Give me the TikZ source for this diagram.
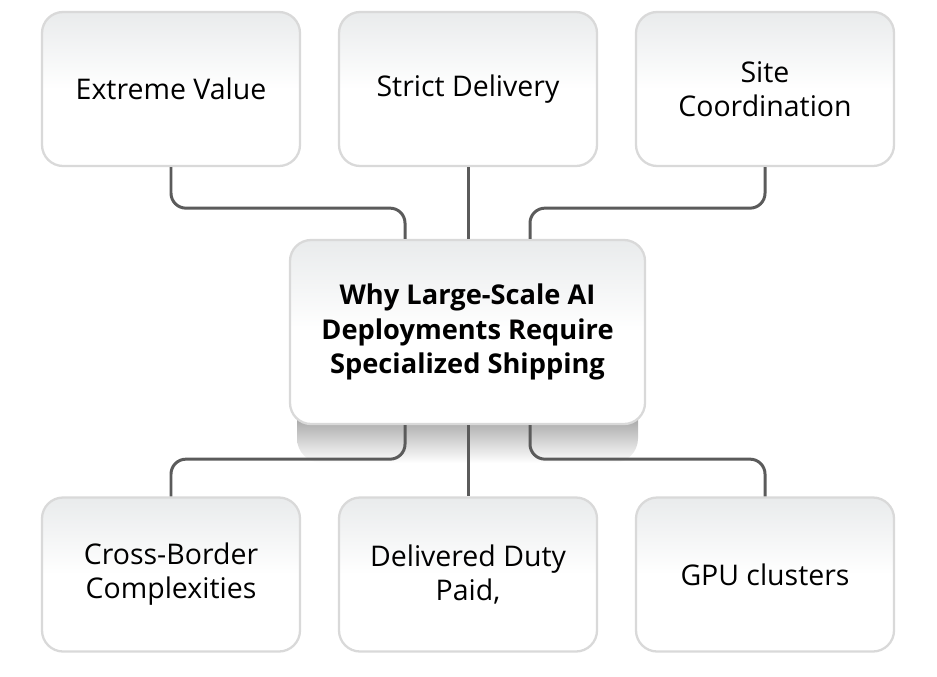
\documentclass[tikz,border=0pt]{standalone}
\usepackage{fontspec}
\setmainfont{Open Sans}
\usepackage{tikz}
\usetikzlibrary{arrows.meta,positioning,calc}
\usepackage{xcolor}
\definecolor{shLine}{HTML}{5B5B5B}
\definecolor{shEdge}{HTML}{D9D9D9}
\definecolor{shTop}{HTML}{E9EBEC}
\definecolor{shShadow}{HTML}{7A7A7A}
\tikzset{
  conn/.style={line width=1.7pt, draw=shLine, rounded corners=8.5pt},
  card/.style={rounded corners=12pt, draw=shEdge, line width=1.3pt, top color=shTop, bottom color=white, middle color=white, align=center, minimum width=5.16cm, minimum height=3.08cm, inner sep=4pt, font=\fontsize{16.2}{19.4}\selectfont},
  hubcard/.style={card, minimum width=7.1cm, minimum height=3.68cm, font=\fontsize{15.5}{19.4}\selectfont\bfseries}
}
\begin{document}
\begin{tikzpicture}[x=0.2mm,y=-0.2mm]
  \useasboundingbox (0,0) rectangle (937,676);
  \shade[top color=shShadow, bottom color=white, rounded corners=14pt] (297,395) rectangle (638,463);
  \node[hubcard] (hub) at (467.5,332) {Why Large-Scale AI\\Deployments Require\\Specialized Shipping};
  \node[card] (value) at (171,89) {Extreme Value};
  \node[card] (delivery) at (468,89) {Strict Delivery};
  \node[card] (coord) at (765,89) {Site\\Coordination};
  \node[card] (border) at (171,574.5) {Cross-Border\\Complexities};
  \node[card] (ddp) at (468,574.5) {Delivered Duty\\Paid,};
  \node[card] (gpu) at (765,574.5) {GPU clusters};
  \draw[conn] (value.south) -- ++(0,41) -| ([xshift=-62.5*0.2mm]hub.north);
  \draw[conn] (delivery.south) -- (delivery.south |- hub.north);
  \draw[conn] (coord.south) -- ++(0,41) -| ([xshift=62.5*0.2mm]hub.north);
  \draw[conn] ([xshift=-62.5*0.2mm]hub.south) -- ++(0,34) -| (border.north);
  \draw[conn] (ddp.north |- hub.south) -- (ddp.north);
  \draw[conn] ([xshift=62.5*0.2mm]hub.south) -- ++(0,34) -| (gpu.north);
\end{tikzpicture}
\end{document}
